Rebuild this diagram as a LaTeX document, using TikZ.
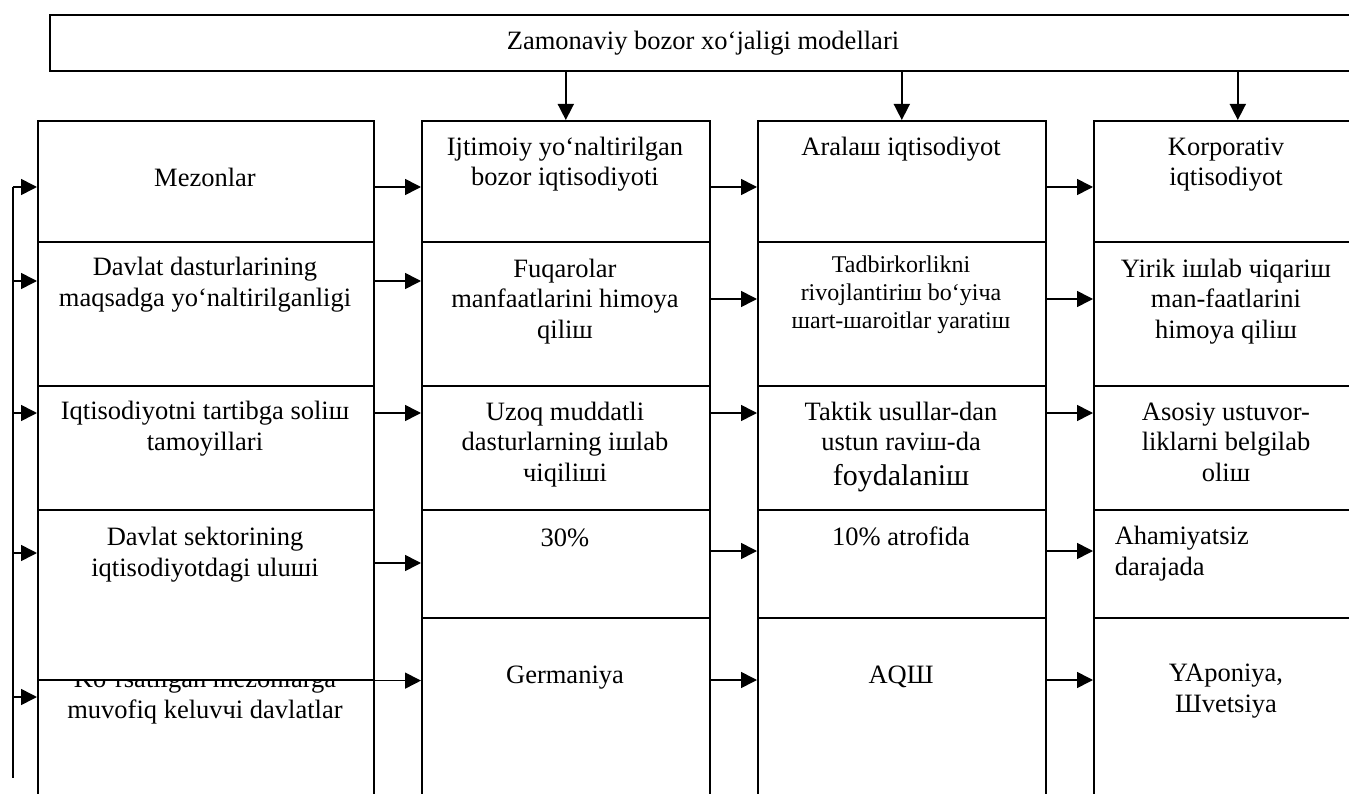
\documentclass[tikz,border=0pt]{standalone}
\usepackage{fontspec}
\setmainfont{Liberation Serif}
\usetikzlibrary{arrows.meta}
\begin{document}
\begin{tikzpicture}[x=1pt,y=-1pt,
  line width=1.6pt,
  cell/.style={draw, rectangle, inner sep=0pt, anchor=north west, minimum width=288pt},
  wcell/.style={cell, minimum width=336pt},
  txt/.style={inner sep=0pt, anchor=base, align=center, font=\fontsize{26.5}{30.5}\selectfont},
  arr/.style={-{Triangle[length=16pt,width=16pt]}}
]
\useasboundingbox (0,0) rectangle (1349,794);
\clip (0,0) rectangle (1349,794);

% top box
\node[draw, inner sep=0pt, anchor=north west, minimum width=1400pt, minimum height=56pt] (top) at (49,14) {};
\node[txt] (ttl) at (703,50) {Zamonaviy bozor xo‘jaligi modellari};

% column 1 (node base = baseline of last line)
\node[wcell, minimum height=121pt] (c11) at (37,120) {};
\node[wcell, minimum height=144pt] (c12) at (37,241) {};
\node[wcell, minimum height=124pt] (c13) at (37,385) {};
\node[wcell, minimum height=130pt] (c15) at (37,679) {};
\node[txt] (t15) at (205,718) {Ko‘rsatilgan mezonlarga\\muvofiq keluvчi davlatlar};
\node[wcell, fill=white, minimum height=170pt] (c14) at (37,509) {};
\node[txt] (t11) at (205,187) {Mezonlar};
\node[txt] (t12) at (205,306) {Davlat dasturlarining\\maqsadga yo‘naltirilganligi};
\node[txt] (t13) at (205,450) {Iqtisodiyotni tartibga soliш\\tamoyillari};
\node[txt] (t14) at (205,576) {Davlat sektorining\\iqtisodiyotdagi uluшi};

% column 2
\node[cell, minimum height=121pt] (c21) at (421,120) {};
\node[cell, minimum height=144pt] (c22) at (421,241) {};
\node[cell, minimum height=124pt] (c23) at (421,385) {};
\node[cell, minimum height=108pt] (c24) at (421,509) {};
\node[cell, minimum height=190pt] (c25) at (421,617) {};
\node[txt] (t21) at (565,186) {Ijtimoiy yo‘naltirilgan\\bozor iqtisodiyoti};
\node[txt] (t22) at (565,338) {Fuqarolar\\manfaatlarini himoya\\qiliш};
\node[txt] (t23) at (565,481) {Uzoq muddatli\\dasturlarning iшlab\\чiqiliшi};
\node[txt] (t24) at (565,546) {30\%};
\node[txt] (t25) at (565,683) {Germaniya};

% column 3
\node[cell, minimum height=121pt] (c31) at (757,120) {};
\node[cell, minimum height=144pt] (c32) at (757,241) {};
\node[cell, minimum height=124pt] (c33) at (757,385) {};
\node[cell, minimum height=108pt] (c34) at (757,509) {};
\node[cell, minimum height=190pt] (c35) at (757,617) {};
\node[txt] (t31) at (901,156) {Aralaш iqtisodiyot};
\node[txt, font=\fontsize{24}{27.5}\selectfont] (t32) at (901,328) {Tadbirkorlikni\\rivojlantiriш bo‘yiча\\шart-шaroitlar yaratiш};
\node[txt] (t33) at (901,485) {Taktik usullar-dan\\ustun raviш-da\\[4pt]{\fontsize{30}{34}\selectfont foydalaniш}};
\node[txt] (t34) at (901,545) {10\% atrofida};
\node[txt] (t35) at (901,683) {AQШ};

% column 4
\node[cell, minimum height=121pt] (c41) at (1093,120) {};
\node[cell, minimum height=144pt] (c42) at (1093,241) {};
\node[cell, minimum height=124pt] (c43) at (1093,385) {};
\node[cell, minimum height=108pt] (c44) at (1093,509) {};
\node[cell, minimum height=190pt] (c45) at (1093,617) {};
\node[txt] (t41) at (1226,186) {Korporativ\\iqtisodiyot};
\node[txt] (t42) at (1226,338) {Yirik iшlab чiqariш\\man-faatlarini\\himoya qiliш};
\node[txt] (t43) at (1226,481) {Asosiy ustuvor-\\liklarni belgilab\\oliш};
\node[txt, anchor=base west, align=left] (t44) at (1114,575) {Ahamiyatsiz\\darajada};
\node[txt] (t45) at (1226,712) {YAponiya,\\Шvetsiya};

% arrows from top box
\draw[arr] (top.south -| c21.north) -- (c21.north);
\draw[arr] (top.south -| c31.north) -- (c31.north);
\draw[arr] (top.south -| c41.north) -- (c41.north);

% left feedback line
\coordinate (L1) at (12.7,187);
\coordinate (L2) at (12.7,778);
\draw (L1) -- (L2);
\draw[arr] (L1) -- (c11.west |- L1);
\draw[arr] (L1 |- 0,281) -- (c12.west |- 0,281);
\draw[arr] (L1 |- 0,413) -- (c13.west |- 0,413);
\draw[arr] (L1 |- 0,553) -- (c14.west |- 0,553);
\draw[arr] (L1 |- 0,697) -- (c15.west |- 0,697);

% column 1 -> column 2
\draw[arr] (c11.east |- 0,187) -- (c21.west |- 0,187);
\draw[arr] (c12.east |- 0,281) -- (c22.west |- 0,281);
\draw[arr] (c13.east |- 0,413) -- (c23.west |- 0,413);
\draw[arr] (c14.east |- 0,563) -- (c24.west |- 0,563);
\draw[arr] (c14.south west) -- (c25.west |- c14.south west);

% column 2 -> column 3
\draw[arr] (c21.east |- 0,187) -- (c31.west |- 0,187);
\draw[arr] (c22.east |- 0,299) -- (c32.west |- 0,299);
\draw[arr] (c23.east |- 0,413) -- (c33.west |- 0,413);
\draw[arr] (c24.east |- 0,551) -- (c34.west |- 0,551);
\draw[arr] (c25.east |- 0,680) -- (c35.west |- 0,680);

% column 3 -> column 4
\draw[arr] (c31.east |- 0,187) -- (c41.west |- 0,187);
\draw[arr] (c32.east |- 0,299) -- (c42.west |- 0,299);
\draw[arr] (c33.east |- 0,413) -- (c43.west |- 0,413);
\draw[arr] (c34.east |- 0,551) -- (c44.west |- 0,551);
\draw[arr] (c35.east |- 0,680) -- (c45.west |- 0,680);
\end{tikzpicture}
\end{document}
